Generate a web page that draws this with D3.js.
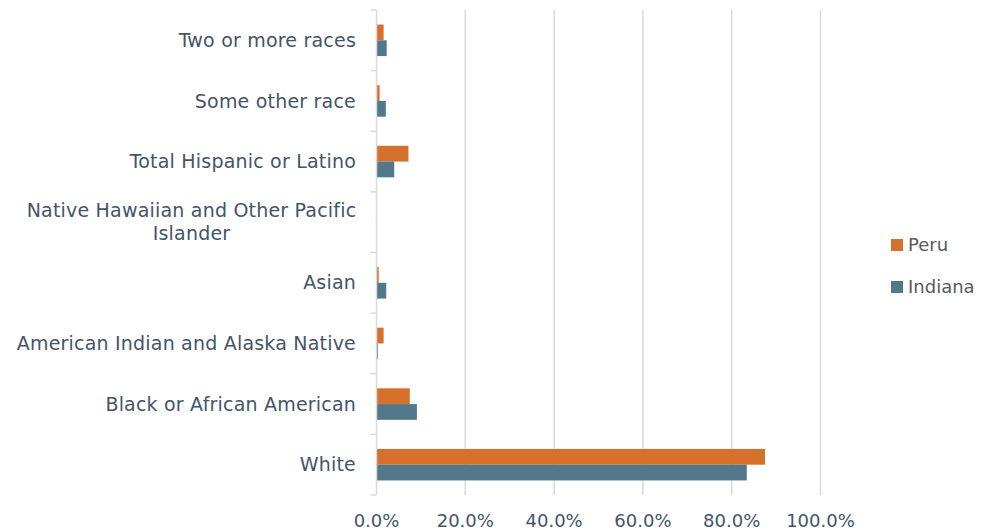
<!DOCTYPE html>
<html>
<head>
<meta charset="utf-8">
<script src="https://cdn.jsdelivr.net/npm/d3@7"></script>
<style>
  body { margin: 0; background: #fff; }
  svg text { font-family: "DejaVu Sans", sans-serif; }
</style>
</head>
<body>
<div id="chart"></div>
<script>
// categories top to bottom
const categories = [
    "Two or more races",
    "Some other race",
    "Total Hispanic or Latino",
    "Native Hawaiian and Other Pacific Islander",
    "Asian",
    "American Indian and Alaska Native",
    "Black or African American",
    "White"
];
const seriesNames = ["Peru", "Indiana"];
const peruValues = [1.6, 0.7, 7.2, 0.0, 0.5, 1.6, 7.5, 87.5];
const indianaValues = [2.3, 2.1, 4.0, 0.0, 2.2, 0.3, 9.1, 83.4];
const xTicks = [0, 20, 40, 60, 80, 100];
const colors = { Peru: "#D5712A", Indiana: "#52788B" };

const width = 994, height = 531;
const margin = { top: 10, left: 376.5, right: 173.5, bottom: 36 };

const svg = d3.select("#chart").append("svg")
    .attr("width", width)
    .attr("height", height);

const x = d3.scaleLinear().domain([0, 100]).range([margin.left, width - margin.right]);
const y = d3.scaleBand().domain(categories).range([margin.top, height - margin.bottom]).paddingInner(0.48).paddingOuter(0.24);
const ySub = d3.scaleBand().domain(seriesNames).range([0, y.bandwidth()]);

// gridlines
svg.append("g")
    .selectAll("line")
    .data(xTicks.slice(1))
    .join("line")
    .attr("x1", d => x(d)).attr("x2", d => x(d))
    .attr("y1", margin.top).attr("y2", height - margin.bottom)
    .attr("stroke", "#d9d9d9")
    .attr("stroke-width", 1.5);

// bars
const rows = categories.map((c, i) => ({ cat: c, values: [
    { name: "Peru", v: peruValues[i] },
    { name: "Indiana", v: indianaValues[i] }
]}));

svg.append("g")
    .selectAll("g")
    .data(rows)
    .join("g")
    .attr("transform", d => `translate(0,${y(d.cat)})`)
    .selectAll("rect")
    .data(d => d.values)
    .join("rect")
    .attr("x", x(0))
    .attr("y", d => ySub(d.name))
    .attr("width", d => x(d.v) - x(0))
    .attr("height", ySub.bandwidth())
    .attr("fill", d => colors[d.name]);

// category axis line + ticks
const axisG = svg.append("g");
axisG.append("line")
    .attr("x1", x(0)).attr("x2", x(0))
    .attr("y1", margin.top).attr("y2", height - margin.bottom)
    .attr("stroke", "#d9d9d9").attr("stroke-width", 1.5);
axisG.selectAll("line.tick")
    .data(d3.range(categories.length + 1))
    .join("line")
    .attr("class", "tick")
    .attr("x1", x(0) - 6).attr("x2", x(0))
    .attr("y1", i => margin.top + i * (height - margin.bottom - margin.top) / categories.length)
    .attr("y2", i => margin.top + i * (height - margin.bottom - margin.top) / categories.length)
    .attr("stroke", "#d9d9d9").attr("stroke-width", 1.5);

// category labels
const labelLines = {
    "Native Hawaiian and Other Pacific Islander": ["Native Hawaiian and Other Pacific", "Islander"]
};
categories.forEach(c => {
    const cy = y(c) + y.bandwidth() / 2;
    const lines = labelLines[c];
    if (lines) {
        const t = svg.append("text")
            .attr("text-anchor", "middle")
            .attr("fill", "#44546A")
            .attr("font-size", 19)
            .attr("letter-spacing", 0.2);
        lines.forEach((l, i) => {
            t.append("tspan")
                .attr("x", 191.5)
                .attr("y", cy + (i - (lines.length - 1) / 2) * 23)
                .attr("dy", "0.35em")
                .text(l);
        });
    } else {
        svg.append("text")
            .attr("x", 356)
            .attr("y", cy)
            .attr("dy", "0.35em")
            .attr("text-anchor", "end")
            .attr("fill", "#44546A")
            .attr("font-size", 19)
            .attr("letter-spacing", 0.2)
            .text(c);
    }
});

// x tick labels
svg.append("g")
    .selectAll("text")
    .data(xTicks)
    .join("text")
    .attr("x", d => x(d))
    .attr("y", 521)
    .attr("dy", "0.35em")
    .attr("text-anchor", "middle")
    .attr("fill", "#44546A")
    .attr("font-size", 18)
    .text(d => d3.format(".1f")(d) + "%");

// legend
const legend = svg.append("g").attr("transform", "translate(891,239)");
seriesNames.forEach((s, i) => {
    const g = legend.append("g").attr("transform", `translate(0,${i * 42})`);
    g.append("rect").attr("width", 12).attr("height", 12).attr("fill", colors[s]);
    g.append("text")
        .attr("x", 17).attr("y", 6).attr("dy", "0.35em")
        .attr("fill", "#595959")
        .attr("font-size", 18)
        .attr("font-family", "'Open Sans', sans-serif")
        .text(s);
});
</script>
</body>
</html>
